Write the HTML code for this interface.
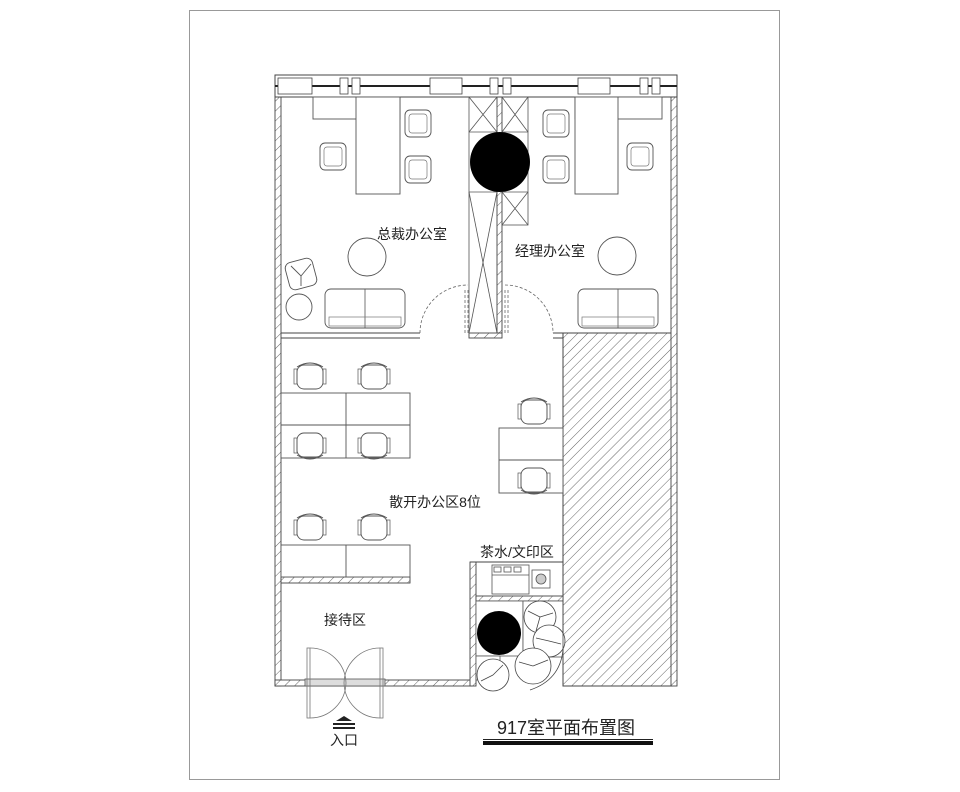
<!DOCTYPE html>
<html><head><meta charset="utf-8"><style>
body{margin:0;background:#fff;width:960px;height:792px;overflow:hidden}
svg{display:block}
text{font-family:"Liberation Sans","Noto Sans CJK SC",sans-serif;fill:#222}
</style></head><body>
<svg width="960" height="792" viewBox="0 0 960 792" xmlns="http://www.w3.org/2000/svg">
<defs>
<pattern id="h" width="7" height="7" patternUnits="userSpaceOnUse" patternTransform="rotate(45)">
<rect width="7" height="7" fill="#fff"/><line x1="0" y1="0" x2="0" y2="7" stroke="#555" stroke-width="0.9"/></pattern>
<g id="ch"><rect x="0" y="0" width="26" height="27" rx="5" fill="#fff" stroke="#555" stroke-width="0.9"/><rect x="4" y="4" width="18" height="19" rx="3" fill="none" stroke="#777" stroke-width="0.7"/></g>
<g id="oc"><path d="M3 6 Q16 -2 29 6" fill="none" stroke="#555" stroke-width="0.9"/><rect x="3" y="4" width="26" height="24" rx="7" fill="#fff" stroke="#555" stroke-width="0.9"/><rect x="0" y="8" width="3" height="15" fill="none" stroke="#555" stroke-width="0.7"/><rect x="29" y="8" width="3" height="15" fill="none" stroke="#555" stroke-width="0.7"/></g>
<g id="so"><rect x="0" y="0" width="80" height="39" rx="6" fill="#fff" stroke="#555" stroke-width="0.9"/><line x1="40" y1="0" x2="40" y2="39" stroke="#555" stroke-width="0.8"/><rect x="4" y="28" width="72" height="9" fill="none" stroke="#777" stroke-width="0.7"/></g>
</defs>
<rect x="189.5" y="10.5" width="590" height="769" fill="#fff" stroke="#999" stroke-width="1"/>

<rect x="563" y="333" width="109" height="353" fill="url(#h)" stroke="#444" stroke-width="1"/>
<rect x="275" y="97" width="6" height="589" fill="url(#h)" stroke="#444" stroke-width="0.9"/>
<rect x="671" y="97" width="6" height="589" fill="url(#h)" stroke="#444" stroke-width="0.9"/>
<rect x="275" y="680" width="197" height="6" fill="url(#h)" stroke="#444" stroke-width="0.9"/>
<rect x="497" y="97" width="5" height="236" fill="url(#h)" stroke="#444" stroke-width="0.9"/>
<rect x="469" y="333" width="33" height="5" fill="url(#h)" stroke="#444" stroke-width="0.9"/>
<rect x="281" y="577" width="129" height="6" fill="url(#h)" stroke="#444" stroke-width="0.9"/>
<line x1="281" y1="333" x2="420" y2="333" stroke="#444"/><line x1="281" y1="338" x2="420" y2="338" stroke="#444"/>
<line x1="553" y1="333" x2="563" y2="333" stroke="#444"/><line x1="553" y1="338" x2="563" y2="338" stroke="#444"/>
<rect x="275" y="75" width="402" height="22" fill="#fff" stroke="#444" stroke-width="1"/>
<line x1="275" y1="86" x2="677" y2="86" stroke="#222" stroke-width="2"/>
<g fill="#fff" stroke="#444" stroke-width="0.8">
<rect x="278" y="78" width="34" height="16"/><rect x="340" y="78" width="8" height="16"/><rect x="352" y="78" width="8" height="16"/>
<rect x="430" y="78" width="32" height="16"/><rect x="490" y="78" width="8" height="16"/><rect x="503" y="78" width="8" height="16"/>
<rect x="578" y="78" width="32" height="16"/><rect x="640" y="78" width="8" height="16"/><rect x="652" y="78" width="8" height="16"/>
</g>

<g fill="none" stroke="#555" stroke-width="0.8">
<rect x="469" y="97" width="28" height="236"/>
<line x1="469" y1="97" x2="497" y2="132"/><line x1="497" y1="97" x2="469" y2="132"/><line x1="469" y1="132" x2="497" y2="132"/>
<line x1="469" y1="192" x2="497" y2="192"/>
<line x1="469" y1="192" x2="497" y2="333"/><line x1="497" y1="192" x2="469" y2="333"/>
<rect x="502" y="97" width="26" height="128"/>
<line x1="502" y1="97" x2="528" y2="132"/><line x1="528" y1="97" x2="502" y2="132"/><line x1="502" y1="132" x2="528" y2="132"/>
<line x1="502" y1="192" x2="528" y2="225"/><line x1="528" y1="192" x2="502" y2="225"/><line x1="502" y1="192" x2="528" y2="192"/>
</g>
<circle cx="500" cy="162" r="30" fill="#000"/>

<g fill="none" stroke="#666" stroke-width="0.8" stroke-dasharray="3,2">
<path d="M420 333 A48 48 0 0 1 468 285"/><path d="M505 285 A48 48 0 0 1 553 333"/>
<line x1="465" y1="290" x2="465" y2="333"/><line x1="468" y1="290" x2="468" y2="333"/>
<line x1="505" y1="290" x2="505" y2="333"/><line x1="508" y1="290" x2="508" y2="333"/>
</g>

<g fill="#fff" stroke="#555" stroke-width="0.9">
<rect x="313" y="97" width="87" height="22"/><rect x="356" y="97" width="44" height="97"/>
<circle cx="367" cy="257" r="19"/><circle cx="299" cy="307" r="13"/>
<rect x="287" y="260" width="28" height="28" rx="6" transform="rotate(-15 301 274)"/>
<path d="M291 266 L301 276 L311 264 M301 276 L301 286" fill="none"/>
</g>
<use href="#ch" x="405" y="110"/><use href="#ch" x="405" y="156"/><use href="#ch" x="320" y="143"/>
<use href="#so" x="325" y="289"/>
<g fill="#fff" stroke="#555" stroke-width="0.9">
<rect x="575" y="97" width="87" height="22"/><rect x="575" y="97" width="43" height="97"/>
<circle cx="617" cy="256" r="19"/>
</g>
<use href="#ch" x="543" y="110"/><use href="#ch" x="543" y="156"/><use href="#ch" x="627" y="143"/>
<use href="#so" x="578" y="289"/>
<text x="412" y="239" font-size="14" text-anchor="middle">总裁办公室</text>
<text x="550" y="256" font-size="14" text-anchor="middle">经理办公室</text>

<use href="#oc" x="294" y="361"/><use href="#oc" x="358" y="361"/>
<g fill="#fff" stroke="#555" stroke-width="0.9">
<rect x="281" y="393" width="129" height="65"/><line x1="346" y1="393" x2="346" y2="458"/><line x1="281" y1="425" x2="410" y2="425"/>
<rect x="281" y="545" width="129" height="32"/><line x1="346" y1="545" x2="346" y2="577"/>
<rect x="499" y="428" width="64" height="65"/><line x1="499" y1="460" x2="563" y2="460"/>
</g>
<use href="#oc" x="294" y="490" transform="rotate(180 310 475.5)"/>
<use href="#oc" x="358" y="490" transform="rotate(180 374 475.5)"/>
<use href="#oc" x="294" y="512"/><use href="#oc" x="358" y="512"/>
<use href="#oc" x="518" y="396"/>
<use href="#oc" x="518" y="525" transform="rotate(180 534 510.5)"/>
<text x="435" y="507" font-size="14" text-anchor="middle">散开办公区8位</text>
<text x="517" y="557" font-size="14" text-anchor="middle">茶水/文印区</text>

<rect x="470" y="562" width="6" height="124" fill="url(#h)" stroke="#444" stroke-width="0.9"/>
<rect x="476" y="596" width="87" height="5" fill="url(#h)" stroke="#444" stroke-width="0.9"/>
<line x1="470" y1="562" x2="563" y2="562" stroke="#444"/>
<g fill="#fff" stroke="#555" stroke-width="0.8">
<rect x="492" y="565" width="37" height="29"/><line x1="492" y1="575" x2="529" y2="575"/>
<rect x="494" y="567" width="7" height="5"/><rect x="504" y="567" width="7" height="5"/><rect x="514" y="567" width="7" height="5"/>
<rect x="532" y="570" width="18" height="18"/><circle cx="541" cy="579" r="5" fill="#ccc"/>
<rect x="476" y="601" width="47" height="55"/><rect x="476" y="656" width="24" height="24"/>
<rect x="523" y="601" width="40" height="56"/>
</g>
<circle cx="499" cy="633" r="22" fill="#000"/>
<g fill="#fff" stroke="#444" stroke-width="0.8">
<circle cx="540" cy="617" r="16"/><circle cx="549" cy="641" r="16"/><circle cx="533" cy="666" r="18"/><circle cx="493" cy="675" r="16"/>
<path d="M540 617 l-12 -6 M540 617 l13 -4 M540 617 l-4 14 M549 641 l-13 -3 M549 641 l12 3 M533 666 l-14 -4 M533 666 l15 -6 M493 675 l-12 6 M493 675 l10 -10"/>
<path d="M563 600 L563 650 Q560 680 530 690" fill="none"/>
</g>

<text x="345" y="625" font-size="14" text-anchor="middle">接待区</text>
<rect x="305" y="679" width="80" height="7" fill="#ddd" stroke="#555" stroke-width="0.8"/>
<g fill="none" stroke="#777" stroke-width="0.8">
<rect x="307" y="648" width="3" height="70"/><rect x="380" y="648" width="3" height="70"/>
<path d="M310 648 A36 36 0 0 1 346 683 A36 36 0 0 1 310 718"/>
<path d="M380 648 A36 36 0 0 0 344 683 A36 36 0 0 0 380 718"/>
</g>
<path d="M336 721 L344 716 L352 721 Z" fill="#222"/>
<rect x="333" y="723" width="22" height="2" fill="#222"/><rect x="333" y="727" width="22" height="2" fill="#222"/>
<text x="344" y="745" font-size="14" text-anchor="middle">入口</text>

<text x="566" y="734" font-size="18" text-anchor="middle">917室平面布置图</text>
<rect x="483" y="739" width="170" height="1" fill="#222"/>
<rect x="483" y="741" width="170" height="4" fill="#111"/>
</svg>
</body></html>
